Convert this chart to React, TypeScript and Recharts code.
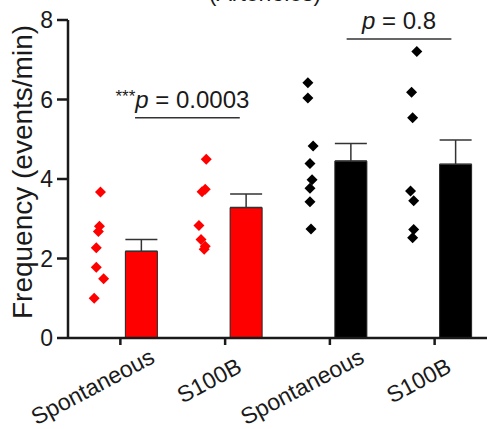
import React from "react"
import { Bar, Cell, ComposedChart, ErrorBar, ReferenceLine, Scatter, XAxis, YAxis } from "recharts"

const categories = ["Spontaneous", "S100B", "Spontaneous", "S100B"]
const groupColors = ["#ff0000", "#ff0000", "#000000", "#000000"]
const meanValues = [2.18, 3.28, 4.45, 4.37]
const semValues = [0.3, 0.34, 0.44, 0.61]

// individual cells per group, with the horizontal scatter
const redSpontPoints = [3.67, 2.81, 2.68, 2.27, 1.78, 1.49, 1.0]
const redSpontJitter = [-0.19, -0.2, -0.21, -0.23, -0.23, -0.16, -0.25]
const redS100bPoints = [4.5, 3.74, 3.68, 2.83, 2.48, 2.31, 2.23]
const redS100bJitter = [-0.18, -0.19, -0.22, -0.25, -0.23, -0.19, -0.2]
const blackSpontPoints = [6.42, 6.04, 4.83, 4.39, 3.98, 3.77, 3.43, 2.74]
const blackSpontJitter = [-0.21, -0.21, -0.16, -0.19, -0.17, -0.19, -0.19, -0.18]
const blackS100bPoints = [7.21, 6.18, 5.54, 3.7, 3.45, 2.73, 2.52]
const blackS100bJitter = [-0.17, -0.22, -0.21, -0.23, -0.2, -0.2, -0.21]

const yTicks = [0, 2, 4, 6, 8]
const pLeft = "p = 0.0003"
const pRight = "p = 0.8"

const W = 487
const H = 429
const BAR_SHIFT = 0.204
const FONT = "'Liberation Sans', Arial, sans-serif"
const INK = "#1a1a1a"

const barData = meanValues.map((m, i) => ({
  x: i + 0.5 + BAR_SHIFT,
  mean: m,
  err: [0, semValues[i]],
}))

const toPoints = (vals: number[], jit: number[], group: number) =>
  vals.map((v, i) => ({ x: group + 0.5 + jit[i], y: v }))

const scatterGroups = [
  { data: toPoints(redSpontPoints, redSpontJitter, 0), color: groupColors[0] },
  { data: toPoints(redS100bPoints, redS100bJitter, 1), color: groupColors[1] },
  { data: toPoints(blackSpontPoints, blackSpontJitter, 2), color: groupColors[2] },
  { data: toPoints(blackS100bPoints, blackS100bJitter, 3), color: groupColors[3] },
]

let ctx: CanvasRenderingContext2D | null = null
const textWidth = (s: string, size: number) => {
  if (!ctx) ctx = document.createElement("canvas").getContext("2d")
  if (!ctx) return s.length * size * 0.55
  ctx.font = `${size}px 'Liberation Sans'`
  return ctx.measureText(s).width
}

const Diamond = (props: any) => {
  const { cx, cy, fill } = props
  const r = 5.5
  return <path d={`M${cx},${cy - r}L${cx + r},${cy}L${cx},${cy + r}L${cx - r},${cy}Z`} fill={fill} />
}

// rotated category label; roughly 70% of the text sits left of the tick
const CategoryTick = (props: any) => {
  const { x, payload } = props
  const label = categories[Math.round(payload.value - 0.5)]
  const w = textWidth(label, 23)
  return (
    <text
      x={x - 0.7 * w}
      y={381}
      transform={`rotate(-28, ${x}, 381)`}
      textAnchor="start"
      fontSize={23}
      fill={INK}
      fontFamily={FONT}
    >
      {label}
    </text>
  )
}

const PLabel = (stars: string, text: string, dx: number) => (props: any) => {
  const { viewBox } = props
  const cx = viewBox.x + viewBox.width / 2 + dx
  const [p, rest] = [text.slice(0, 1), text.slice(1)]
  return (
    <text x={cx} y={viewBox.y - 10} textAnchor="middle" fontSize={24} fill={INK} fontFamily={FONT}>
      {stars && (
        <tspan fontSize={17} dy={-6}>
          {stars}
        </tspan>
      )}
      <tspan fontStyle="italic" dy={stars ? 6 : 0}>
        {p}
      </tspan>
      <tspan>{rest}</tspan>
    </text>
  )
}

export default function App() {
  return (
    <div style={{ position: "absolute", left: 0, top: 0, background: "#fff" }}>
      <ComposedChart width={W} height={H} data={barData} margin={{ top: 20, right: 0, bottom: 31, left: 0 }}>
        <text x={265} y={0.5} textAnchor="middle" fontSize={23} fill={INK} fontFamily={FONT}>
          (Arterioles)
        </text>
        <text
          x={32}
          y={172}
          transform="rotate(-90, 32, 172)"
          textAnchor="middle"
          fontSize={28}
          fill={INK}
          fontFamily={FONT}
        >
          Frequency (events/min)
        </text>
        <XAxis
          xAxisId="main"
          type="number"
          dataKey="x"
          domain={[0, 4]}
          ticks={[0.5, 1.5, 2.5, 3.5]}
          height={60}
          interval={0}
          axisLine={{ stroke: INK, strokeWidth: 2.5 }}
          tickLine={{ stroke: INK, strokeWidth: 2.5 }}
          tickSize={7}
          tick={<CategoryTick />}
        />
        <XAxis xAxisId="pts" type="number" dataKey="x" domain={[0, 4]} hide />
        <YAxis
          type="number"
          domain={[0, 8]}
          ticks={yTicks}
          width={68}
          interval={0}
          axisLine={{ stroke: INK, strokeWidth: 2.5 }}
          tickLine={{ stroke: INK, strokeWidth: 2.5 }}
          tickSize={11}
          tickMargin={4}
          tick={{ fontSize: 23, fill: INK, fontFamily: FONT }}
        />
        <Bar xAxisId="main" dataKey="mean" barSize={32} isAnimationActive={false}>
          {barData.map((_, i) => (
            <Cell key={`bar-${i}`} fill={groupColors[i]} stroke="#222" strokeWidth={1} />
          ))}
          <ErrorBar dataKey="err" direction="y" width={16} stroke="#333" strokeWidth={1.5} />
        </Bar>
        {scatterGroups.map((g, i) => (
          <Scatter
            key={`pts-${i}`}
            xAxisId="pts"
            data={g.data}
            dataKey="y"
            fill={g.color}
            shape={<Diamond />}
            isAnimationActive={false}
          />
        ))}
        <ReferenceLine
          xAxisId="main"
          segment={[
            { x: 0.64, y: 5.54 },
            { x: 1.64, y: 5.54 },
          ]}
          stroke="#333"
          strokeWidth={1.5}
          label={PLabel("***", pLeft, -5)}
        />
        <ReferenceLine
          xAxisId="main"
          segment={[
            { x: 2.66, y: 7.52 },
            { x: 3.66, y: 7.52 },
          ]}
          stroke="#333"
          strokeWidth={1.5}
          label={PLabel("", pRight, 0)}
        />
      </ComposedChart>
    </div>
  )
}
